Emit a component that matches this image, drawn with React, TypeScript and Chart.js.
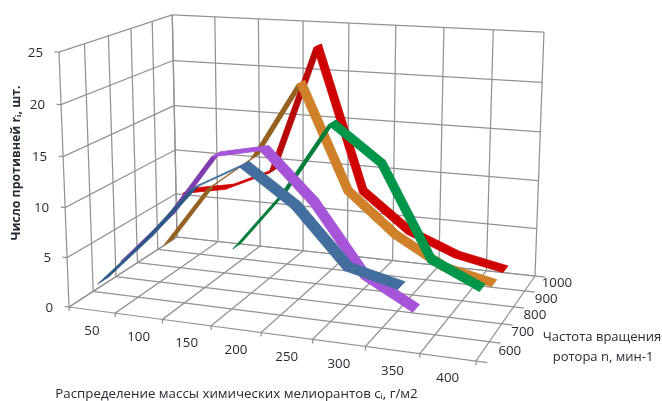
import React, { useEffect, useRef } from "react";
import { Chart, registerables } from "chart.js";

Chart.register(...registerables);

const categories = ["50", "100", "150", "200", "250", "300", "350", "400"];
const depthLabels = ["600", "700", "800", "900", "1000"];
const valueTicks = [0, 5, 10, 15, 20, 25];

const s600 = [2.2, 7.0, 12.5, 15.1, 11.7, 6.4, 5.2, null];
const s700 = [3, 7.9, 14.5, 15.5, 10.7, 4.1, 1.4, null];
const s800 = [null, null, 3.9, 9.8, 17.3, 13.7, 4.7, 2.4];
const s900 = [1.8, 8.3, 12, 20, 9.3, 5.2, 2.4, 1.3];
const s1000 = [6.2, 7.1, 9.3, 22.9, 8, 4.2, 2.2, 1.2];

const seriesValues = [s600, s700, s800, s900, s1000];
const topColors = ["#436f9e", "#a755d8", "#00964a", "#cf8029", "#d00000"];
const underColors = ["#2c5886", "#7d3db0", "#007c3b", "#94601f", "#b80808"];

const GRID = "#929292";
const TEXT = "#252a33";
const FONT = '"Open Sans", "Noto Sans", sans-serif';
const RIBBON = 0.046;
const VMAX = 25;

// Perspective of the Excel 3D box: u along categories, v into depth, z up (all 0..1)
const O = [69, 307], U = [476, 361], V = [177, 237], Z = [59, 52];
const d = -0.1057, e = 0.1543, f = -0.04;
const project = (u: number, v: number, z: number) => {
  const w = 1 + d * u + e * v + f * z;
  const c = (i: number) =>
    (O[i] +
      (U[i] * (1 + d) - O[i]) * u +
      (V[i] * (1 + e) - O[i]) * v +
      (Z[i] * (1 + f) - O[i]) * z) / w;
  return { x: c(0), y: c(1) };
};

const line = (data: { x: number; y: number }[], color = GRID, width = 1.25) => ({
  data,
  showLine: true,
  pointRadius: 0,
  borderColor: color,
  borderWidth: width,
  tension: 0,
  fill: false as any,
});

function buildDatasets() {
  const out: any[] = [];
  const nu = categories.length;
  const nv = depthLabels.length;
  const nz = valueTicks.length - 1;
  // floor
  for (let i = 0; i <= nu; i++)
    out.push(line([project(i / nu, 1, 0), project(i / nu, 0, 0), project(i / nu, 0, -0.016)]));
  for (let j = 0; j <= nv; j++)
    out.push(line([project(0, j / nv, 0), project(1.025, j / nv, 0)]));
  // back wall
  for (let i = 0; i <= nu; i++)
    out.push(line([project(i / nu, 1, 0), project(i / nu, 1, 1)]));
  for (let k = 0; k <= nz; k++)
    out.push(line([project(0, 1, k / nz), project(1, 1, k / nz)]));
  // left wall
  for (let j = 0; j <= nv; j++)
    out.push(line([project(0, j / nv, 0), project(0, j / nv, 1)]));
  for (let k = 0; k <= nz; k++)
    out.push(line([project(0, 1, k / nz), project(0, 0, k / nz), project(-0.012, 0, k / nz)]));

  // ribbons, back to front
  for (let s = seriesValues.length - 1; s >= 0; s--) {
    const values = seriesValues[s];
    const v = (s + 0.5) / nv;
    for (let i = 0; i < values.length - 1; i++) {
      const a = values[i];
      const b = values[i + 1];
      if (a == null || b == null) continue;
      const u0 = (i + 0.5) / nu;
      const u1 = (i + 1.5) / nu;
      const p = [
        project(u0, v - RIBBON, a / VMAX),
        project(u1, v - RIBBON, b / VMAX),
        project(u1, v + RIBBON, b / VMAX),
        project(u0, v + RIBBON, a / VMAX),
      ];
      let area = 0;
      p.forEach((q, n) => {
        const r = p[(n + 1) % 4];
        area += q.x * r.y - r.x * q.y;
      });
      const color = area > 0 ? underColors[s] : topColors[s];
      out.push({
        ...line([...p, p[0]], color, 0.8),
        fill: "shape",
        backgroundColor: color,
      });
    }
  }
  return out.reverse(); // Chart.js paints the last dataset first
}

const labelsPlugin = {
  id: "boxLabels",
  afterDraw(chart: any) {
    const { ctx, scales } = chart;
    const px = (p: { x: number; y: number }) => ({
      x: scales.x.getPixelForValue(p.x),
      y: scales.y.getPixelForValue(p.y),
    });
    ctx.save();
    ctx.fillStyle = TEXT;
    ctx.textBaseline = "middle";
    ctx.font = `13.3px ${FONT}`;
    ctx.textAlign = "right";
    valueTicks.forEach((t, k) => {
      const q = px(project(0, 0, k / (valueTicks.length - 1)));
      ctx.fillText(String(t), q.x - 16, q.y + 1);
    });
    ctx.textAlign = "center";
    categories.forEach((c, i) => {
      const q = px(project((i + 0.5) / categories.length, 0, 0));
      ctx.fillText(c, q.x, q.y + 21);
    });
    depthLabels.forEach((c, j) => {
      const q = px(project(1, (j + 0.5) / depthLabels.length, 0));
      ctx.fillText(c, q.x + 27, q.y);
    });
    ctx.fillText("Распределение массы химических мелиорантов cᵢ, г/м2", 236.5, 394);
    ctx.font = `13px ${FONT}`;
    ctx.fillText("Частота вращения", 602, 337);
    ctx.fillText("ротора n, мин-1", 603, 357);
    ctx.translate(16, 163);
    ctx.rotate(-Math.PI / 2);
    ctx.font = `bold 12.4px ${FONT}`;
    ctx.fillText("Число противней rᵢ, шт.", 0, 0);
    ctx.restore();
  },
};

export default function App() {
  const ref = useRef<HTMLCanvasElement>(null);
  useEffect(() => {
    document.body.style.margin = "0";
    const chart = new Chart(ref.current as HTMLCanvasElement, {
      type: "scatter",
      data: { datasets: buildDatasets() },
      options: {
        animation: false,
        responsive: false,
        layout: { padding: 0 },
        plugins: { legend: { display: false }, tooltip: { enabled: false } },
        scales: {
          x: { type: "linear", display: false, min: 0, max: 662 },
          y: { type: "linear", display: false, min: 0, max: 401, reverse: true },
        },
      },
      plugins: [labelsPlugin],
    } as any);
    return () => chart.destroy();
  }, []);
  return <canvas ref={ref} width={662} height={401} style={{ display: "block" }} />;
}
